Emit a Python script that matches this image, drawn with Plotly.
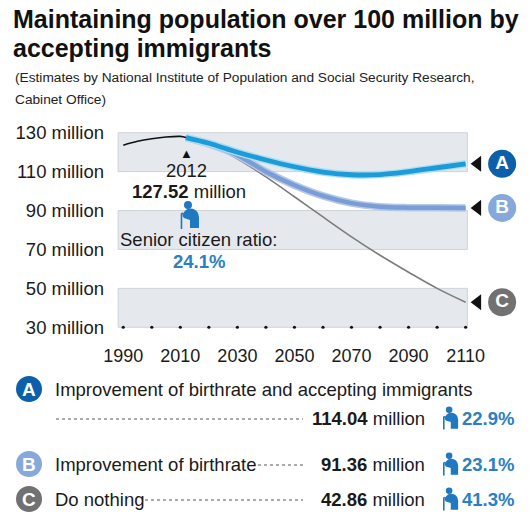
import plotly.graph_objects as go

# ---------------- data ----------------
HIST_YEARS = [1990, 1995, 2000, 2005, 2010, 2012]
HIST_POP = [123.6, 125.6, 126.9, 127.8, 128.1, 127.52]

PROJ_YEARS = [2012, 2020, 2030, 2040, 2050, 2060, 2070, 2080, 2090, 2100, 2110]
POP_A = [127.52, 124.6, 120.0, 116.0, 112.5, 109.8, 108.4, 108.5, 110.0, 112.0, 114.04]
POP_B = [127.52, 124.2, 118.5, 110.0, 103.0, 97.5, 93.8, 92.0, 91.5, 91.4, 91.36]
POP_C = [127.52, 124.1, 116.6, 107.3, 97.1, 86.7, 76.5, 67.0, 58.3, 50.0, 42.86]

Y_TICKS = [30, 50, 70, 90, 110, 130]
Y_TICK_LABELS = [f"{v} million" for v in Y_TICKS]
X_TICKS = [1990, 2010, 2030, 2050, 2070, 2090, 2110]
DOT_YEARS = [1990, 2000, 2010, 2020, 2030, 2040, 2050, 2060, 2070, 2080, 2090, 2100, 2110]
BANDS = [(110, 130), (70, 90), (30, 50)]

SCENARIO_KEYS = ["A", "B", "C"]
SCENARIO_NAMES = ["Improvement of birthrate and accepting immigrants",
                  "Improvement of birthrate", "Do nothing"]
SCENARIO_END_TEXT = ["114.04", "91.36", "42.86"]
SCENARIO_SENIOR = ["22.9%", "23.1%", "41.3%"]
BASE_YEAR = 2012
BASE_POP = 127.52
BASE_SENIOR = "24.1%"

TITLE_1 = "Maintaining population over 100 million by"
TITLE_2 = "accepting immigrants"
SUB_1 = "(Estimates by National Institute of Population and Social Security Research,"
SUB_2 = "Cabinet Office)"

# ---------------- layout geometry ----------------
W, H = 531, 528
PX_PER_YEAR = 371 / 130
X_RANGE = [1985, 2128]
ML, MT, MB = 109, 123, 191
PW = (X_RANGE[1] - X_RANGE[0]) * PX_PER_YEAR
MR = W - ML - PW
PH = H - MT - MB
FONT = "Liberation Sans, Arial, Helvetica, sans-serif"

CIRCLE_COLORS = ["#0c5fa8", "#86a8db", "#717171"]
ICON_COLOR = "#1f78c0"
PCT_COLOR = "#2a80c2"

TRI_OFFSET = 12 / PX_PER_YEAR       # end-marker triangle, px right of last point
CIRCLE_OFFSET = 36.5 / PX_PER_YEAR  # lettered circle


def px(x):
    return (x - ML) / PW


def py(y):
    return (H - MB - y) / PH


fig = go.Figure()

# history line
fig.add_trace(go.Scatter(x=HIST_YEARS, y=HIST_POP, mode="lines",
                         line=dict(color="#111111", width=1.6, shape="spline"),
                         hoverinfo="skip"))
# C
fig.add_trace(go.Scatter(x=PROJ_YEARS, y=POP_C, mode="lines",
                         line=dict(color="#7c7c7c", width=1.6, shape="spline"),
                         hoverinfo="skip"))
# B
fig.add_trace(go.Scatter(x=PROJ_YEARS, y=POP_B, mode="lines",
                         line=dict(color="#b3c8ea", width=7.5, shape="spline"),
                         hoverinfo="skip"))
fig.add_trace(go.Scatter(x=PROJ_YEARS, y=POP_B, mode="lines",
                         line=dict(color="#7b9dd5", width=4.5, shape="spline"),
                         hoverinfo="skip"))
# A
fig.add_trace(go.Scatter(x=PROJ_YEARS, y=POP_A, mode="lines",
                         line=dict(color="#a9def5", width=7.5, shape="spline"),
                         hoverinfo="skip"))
fig.add_trace(go.Scatter(x=PROJ_YEARS, y=POP_A, mode="lines",
                         line=dict(color="#1d9bd8", width=4.8, shape="spline"),
                         hoverinfo="skip"))
# baseline dots
fig.add_trace(go.Scatter(x=DOT_YEARS, y=[Y_TICKS[0]] * len(DOT_YEARS), mode="markers",
                         marker=dict(color="#111111", size=3.2), cliponaxis=False,
                         hoverinfo="skip"))

# end markers: triangles + lettered circles
ends = [POP_A[-1], POP_B[-1], POP_C[-1]]
fig.add_trace(go.Scatter(x=[PROJ_YEARS[-1] + TRI_OFFSET] * 3, y=ends, mode="markers",
                         marker=dict(symbol="triangle-left", size=14, color="#111111",
                                     line=dict(width=0)),
                         cliponaxis=False, hoverinfo="skip"))
fig.add_trace(go.Scatter(x=[PROJ_YEARS[-1] + CIRCLE_OFFSET] * 3, y=ends, mode="markers+text",
                         marker=dict(symbol="circle", size=28, color=CIRCLE_COLORS,
                                     line=dict(width=0)),
                         text=["<b>" + k + "</b>" for k in SCENARIO_KEYS],
                         textposition="middle center",
                         textfont=dict(family=FONT, size=19, color="white"),
                         cliponaxis=False, hoverinfo="skip"))

shapes = []
for lo, hi in BANDS:
    shapes.append(dict(type="rect", xref="x", yref="y", x0=1988.2, x1=2110.6, y0=lo, y1=hi,
                       fillcolor="#e5e9ee", line=dict(color="#cdd3da", width=1), layer="below"))

annotations = []


def ann(text, x, y, size=18.5, color="#1a1a1a", xanchor="left", yanchor="middle", **kw):
    annotations.append(dict(text=text, x=x, y=y, xref=kw.pop("xref", "paper"),
                            yref=kw.pop("yref", "paper"), showarrow=False,
                            xanchor=xanchor, yanchor=yanchor,
                            font=dict(family=FONT, size=size, color=color), **kw))


# titles
ann("<b>" + TITLE_1 + "</b>", px(11), py(19), size=25, color="#111111")
ann("<b>" + TITLE_2 + "</b>", px(11), py(47.5), size=25, color="#111111")
ann(SUB_1, px(13), py(78), size=13.7, color="#222222")
ann(SUB_2, px(13), py(99), size=13.7, color="#222222")

# 2012 annotation
ann("▲", BASE_YEAR, BASE_POP, size=13, color="#111111", xanchor="center", yanchor="top",
    xref="x", yref="y", yshift=-6)
ann(str(BASE_YEAR), px(187), py(170), xanchor="center")
ann(f"<b>{BASE_POP:.2f}</b> million", px(189), py(191), xanchor="center")
ann("Senior citizen ratio:", px(118), py(239))
ann(f"<b>{BASE_SENIOR}</b>", px(199), py(261), color=PCT_COLOR, xanchor="center")


def icon(x0, y0, s):
    body = [(7, 10), (9, 8.3), (12, 7.5), (15, 7.8), (18, 9.5), (20, 12), (21, 16),
            (21, 27), (12, 27), (12, 19), (6, 17), (4.5, 15), (5, 12.5)]
    pts = [(px(x0 + u * s), py(y0 + v * s)) for u, v in body]
    path = "M " + " L ".join(f"{a:.5f},{b:.5f}" for a, b in pts) + " Z"
    shapes.append(dict(type="path", xref="paper", yref="paper", path=path,
                       fillcolor=ICON_COLOR, line=dict(width=0)))
    shapes.append(dict(type="circle", xref="paper", yref="paper",
                       x0=px(x0 + 6 * s), x1=px(x0 + 14 * s),
                       y0=py(y0 + 8 * s), y1=py(y0 + 0 * s),
                       fillcolor=ICON_COLOR, line=dict(width=0)))
    cane = [(5, 12), (3.5, 13), (3.5, 28)]
    cpts = [(px(x0 + u * s), py(y0 + v * s)) for u, v in cane]
    shapes.append(dict(type="path", xref="paper", yref="paper",
                       path="M " + " L ".join(f"{a:.5f},{b:.5f}" for a, b in cpts),
                       line=dict(color=ICON_COLOR, width=1.6)))


icon(178, 201, 1.0)

# bottom legend
ROW_TEXT_Y = [389, 464, 499]
ROW_VAL_Y = [418, 464, 499]
DOT_START = [56, 258, 145]
for i, key in enumerate(SCENARIO_KEYS):
    ty = ROW_TEXT_Y[i]
    vy = ROW_VAL_Y[i]
    shapes.append(dict(type="circle", xref="paper", yref="paper",
                       x0=px(16), x1=px(42), y0=py(ty + 13), y1=py(ty - 13),
                       fillcolor=CIRCLE_COLORS[i], line=dict(width=0)))
    ann("<b>" + key + "</b>", px(29), py(ty), size=19, color="white", xanchor="center")
    ann(SCENARIO_NAMES[i], px(53), py(ty))
    shapes.append(dict(type="line", xref="paper", yref="paper",
                       x0=px(DOT_START[i]), x1=px(303), y0=py(vy + 1), y1=py(vy + 1),
                       line=dict(color="#555555", width=1, dash="dot")))
    ann(f"<b>{SCENARIO_END_TEXT[i]}</b> million", px(427), py(vy), xanchor="right")
    icon(441, vy - 11.5, 0.82)
    ann(f"<b>{SCENARIO_SENIOR[i]}</b>", px(460), py(vy), color=PCT_COLOR)

fig.update_layout(
    width=W, height=H,
    margin=dict(l=ML, r=MR, t=MT, b=MB, autoexpand=False),
    paper_bgcolor="white", plot_bgcolor="white",
    showlegend=False,
    hovermode=False,
    font=dict(family=FONT, size=18.5, color="#1a1a1a"),
    xaxis=dict(range=X_RANGE, tickvals=X_TICKS, showgrid=False, zeroline=False,
               showline=False, ticks="", tickfont=dict(size=18, color="#1a1a1a"),
               ticklabelstandoff=6, fixedrange=True),
    yaxis=dict(range=[25, 135], tickvals=Y_TICKS, ticktext=Y_TICK_LABELS, showgrid=False,
               zeroline=False, showline=False, ticks="", tickfont=dict(size=18.5, color="#1a1a1a"),
               ticklabelstandoff=4, fixedrange=True),
    shapes=shapes,
    annotations=annotations,
)

fig.write_html("out.html", config={"displayModeBar": False},
               post_script="document.body.style.margin='0px';")
